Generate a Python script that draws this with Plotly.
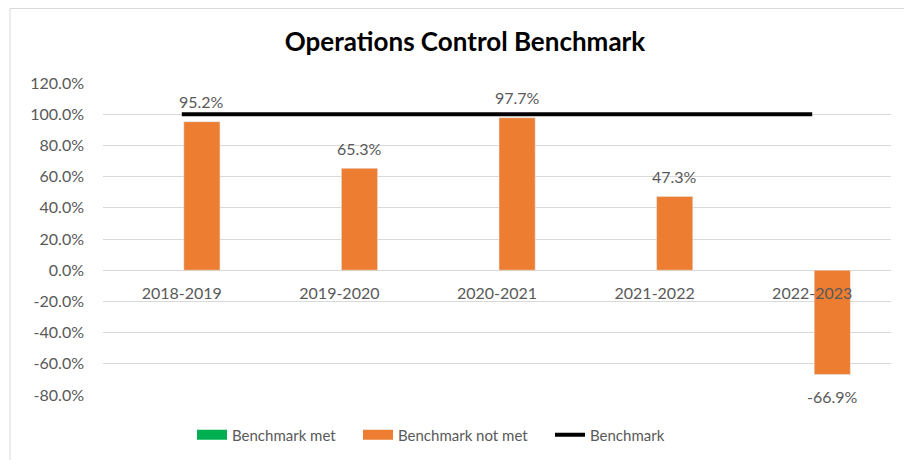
import plotly.graph_objects as go

categories = ["2018-2019", "2019-2020", "2020-2021", "2021-2022", "2022-2023"]
met_values = [None, None, None, None, None]
not_met_values = [95.2, 65.3, 97.7, 47.3, -66.9]
benchmark_values = [100, 100, 100, 100, 100]
y_ticks = [-80, -60, -40, -20, 0, 20, 40, 60, 80, 100, 120]

FONT = "Lato"
GREY = "#595959"
GREEN = "#00b050"
ORANGE = "#ed7d31"
W, H = 912, 460
OFF = 8  # page body margin
L, R, T, B = 103 - OFF, 21 + OFF, 83 - OFF, 65 + OFF

fig = go.Figure()
fig.add_trace(go.Bar(x=categories, y=met_values, name="Benchmark met",
                     marker_color=GREEN, showlegend=False))
fig.add_trace(go.Bar(x=categories, y=not_met_values, name="Benchmark not met",
                     marker_color=ORANGE, showlegend=False))
fig.add_trace(go.Scatter(x=categories, y=benchmark_values, name="Benchmark",
                         mode="lines", line=dict(color="black", width=4),
                         showlegend=False))
# legend entries (wide rectangles like the reference), each in its own legend
legend_specs = [("Benchmark met", GREEN, 10, "legend", 197),
                ("Benchmark not met", ORANGE, 10, "legend2", 363),
                ("Benchmark", "black", 4, "legend3", 555)]
for name, col, wd, lg, _ in legend_specs:
    fig.add_trace(go.Scatter(x=[None], y=[None], name=name, mode="lines",
                             line=dict(color=col, width=wd), showlegend=True,
                             legend=lg))

# data labels
for c, v in zip(categories, not_met_values):
    fig.add_annotation(x=c, y=v, text=f"{v:.1f}%", showarrow=False,
                       xshift=20, yshift=20 if v >= 0 else -22,
                       font=dict(family=FONT, size=16, color=GREY))

# outer border
px = lambda p: (p - L) / (W - L - R)
py = lambda p: (H - B - p) / (H - T - B)
fig.add_shape(type="rect", xref="paper", yref="paper",
              x0=px(2), x1=px(930), y0=py(480), y1=py(0.5),
              line=dict(color="#d9d9d9", width=1), fillcolor="rgba(0,0,0,0)",
              layer="below")

leg_common = dict(orientation="h", xref="container", yref="container",
                  xanchor="left", y=1 - (435 - OFF) / H, yanchor="middle",
                  font=dict(family=FONT, size=15, color=GREY), itemwidth=30,
                  bgcolor="rgba(0,0,0,0)")
legends = {}
for name, col, wd, lg, xs in legend_specs:
    legends[lg] = dict(leg_common, x=(xs - OFF - 5) / W)

ymin, ymax = -80, 120
fig.update_layout(
    width=W, height=H,
    margin=dict(l=L, r=R, t=T, b=B, autoexpand=False),
    paper_bgcolor="white", plot_bgcolor="white",
    barmode="group", bargap=0.49, bargroupgap=0.1,
    title=dict(text="<b>Operations Control Benchmark</b>", x=(465 - OFF) / W,
               xanchor="center", y=1 - (42 - OFF) / H, yanchor="middle",
               yref="container",
               font=dict(family=FONT, size=26, color="black")),
    font=dict(family=FONT, size=16, color=GREY),
    yaxis=dict(range=[ymin, ymax], tickvals=y_ticks,
               ticktext=[f"{t:.1f}%" for t in y_ticks],
               showgrid=True, gridcolor="#d9d9d9", gridwidth=1,
               zeroline=True, zerolinecolor="#d9d9d9", zerolinewidth=1,
               showline=False, ticks="", ticklabelstandoff=18,
               tickfont=dict(family=FONT, size=16, color=GREY)),
    xaxis=dict(type="category", anchor="free",
               position=(0 - ymin) / (ymax - ymin),
               showgrid=False, showline=False, ticks="", ticklabelstandoff=12,
               tickfont=dict(family=FONT, size=16, color=GREY)),
    **legends,
)

fig.write_html("out.html")
